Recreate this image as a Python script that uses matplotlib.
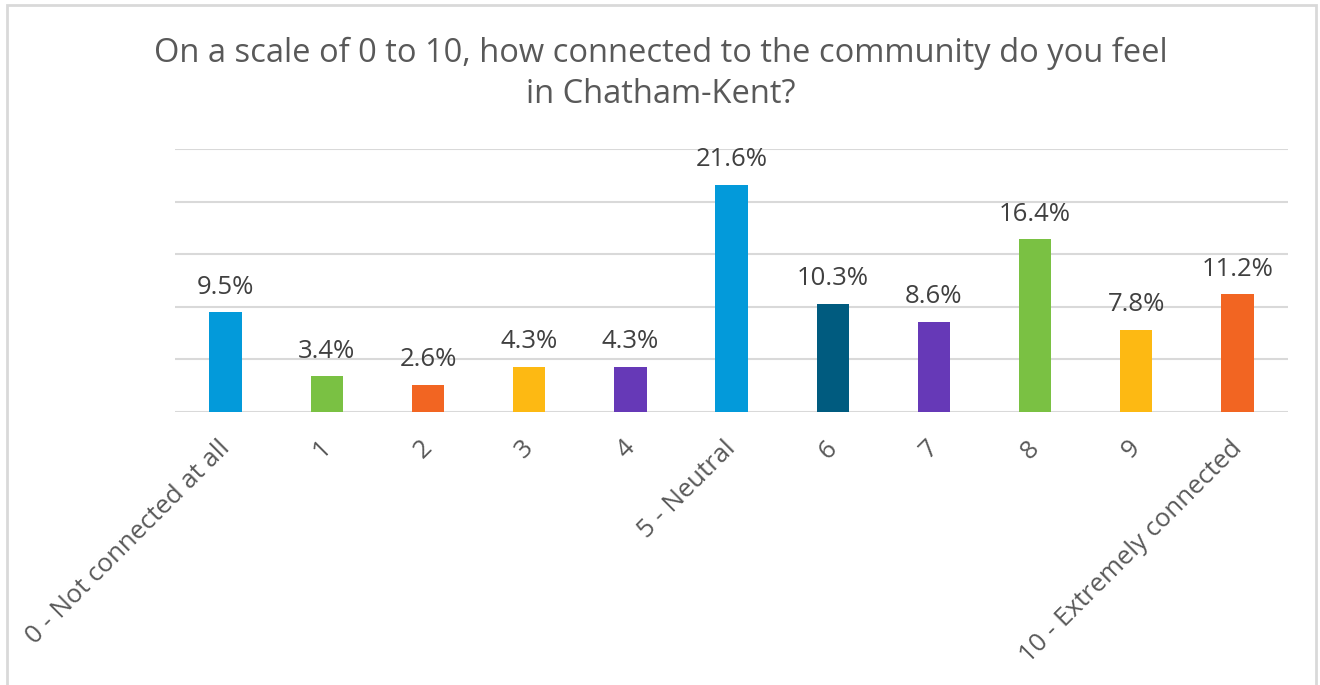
import matplotlib.pyplot as plt
import matplotlib.transforms as mtransforms
from matplotlib.patches import Rectangle

# Survey responses (% of respondents)
categories = ["0 - Not connected at all", "1", "2", "3", "4", "5 - Neutral",
              "6", "7", "8", "9", "10 - Extremely connected"]
percentages = [9.5, 3.4, 2.6, 4.3, 4.3, 21.6, 10.3, 8.6, 16.4, 7.8, 11.2]
bar_colors = ["#039ADA", "#7AC143", "#F26522", "#FDB913", "#6639B7", "#039ADA",
              "#005B7F", "#6639B7", "#7AC143", "#FDB913", "#F26522"]

plt.rcParams['font.family'] = ['Open Sans', 'DejaVu Sans']

fig = plt.figure(figsize=(13.2, 6.85), dpi=100)
ax = fig.add_axes([0.1326, 0.3985, 0.8432, 0.384])

x = range(len(categories))
bars = ax.bar(x, percentages, width=0.32, color=bar_colors, zorder=3)

for rect, val in zip(bars, percentages):
    ax.annotate(f"{val}%", (rect.get_x() + rect.get_width() / 2, rect.get_height()),
                xytext=(0, 9), textcoords="offset points", ha="center", va="bottom",
                fontsize=18.5, color="#404040")

ax.set_xlim(-0.5, len(categories) - 0.5)
ax.set_ylim(0, 25)
ax.set_yticks([0, 5, 10, 15, 20, 25])
ax.yaxis.grid(True, color="#D9D9D9", linewidth=1.5, zorder=0)
ax.tick_params(axis="y", length=0, labelleft=False)
ax.tick_params(axis="x", length=0, pad=17)
ax.set_xticks(list(x))
ax.set_xticklabels(categories, rotation=45, ha="right", va="top",
                   rotation_mode="anchor", fontsize=18.5, color="#595959")
# nudge the rotated labels slightly left of their ticks
shift = mtransforms.ScaledTranslation(-6 / 72, 0, fig.dpi_scale_trans)
for lbl in ax.get_xticklabels():
    lbl.set_transform(lbl.get_transform() + shift)
for side in ["top", "right", "left", "bottom"]:
    ax.spines[side].set_visible(False)

fig.text(0.5005, 0.892, "On a scale of 0 to 10, how connected to the community do you feel\nin Chatham-Kent?",
         ha="center", va="center", fontsize=23.5, color="#595959", linespacing=1.3)

# light border around the chart area
fig.patches.append(Rectangle((7 / 1320, -0.05), 1309 / 1320, 1.05 - 5 / 685,
                             transform=fig.transFigure, fill=False,
                             edgecolor="#D9D9D9", linewidth=2))

fig.savefig("out.png", dpi=100)
